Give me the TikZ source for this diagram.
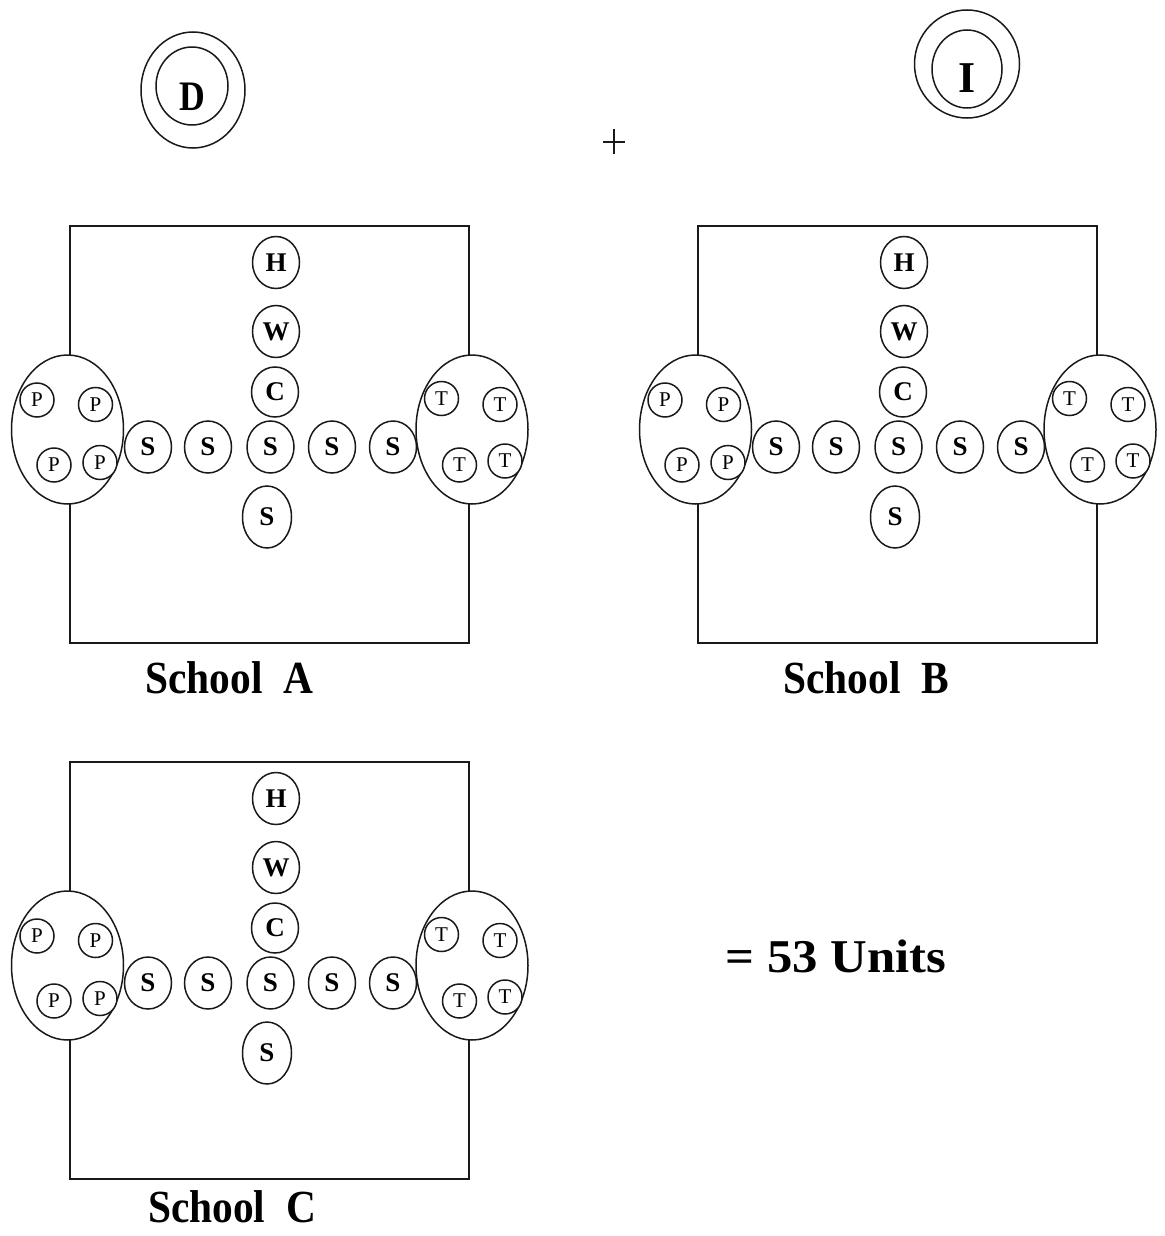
\documentclass[tikz,border=0pt]{standalone}
\usepackage{fontspec}
\setmainfont{Liberation Serif}
\usetikzlibrary{shapes.geometric}
\tikzset{
  ln/.style={line width=1.5pt, draw=black!90},
  bigc/.style={ellipse, ln, fill=white, inner sep=0pt, font=\fontsize{27}{27}\selectfont\bfseries},
  smallc/.style={circle, ln, fill=white, inner sep=0pt, minimum size=34pt, font=\fontsize{21}{21}\selectfont},
  grp/.style={ellipse, ln, fill=white, inner sep=0pt, minimum width=112pt, minimum height=149pt},
  sbox/.style={rectangle, ln, inner sep=0pt, minimum width=399pt, minimum height=417pt},
  srow/.style={bigc, minimum width=47pt, minimum height=52pt},
  lbl/.style={font=\fontsize{46}{46}\selectfont\bfseries, anchor=base, inner sep=0pt},
  ring/.style={ellipse, ln, inner sep=0pt},
}
\newcommand\drawschool[3]{%
\begin{scope}[shift={(#2,#3)}, name prefix=#1-]
  \node[sbox] (box) at (269.5,434.5) {};
  \node[grp] (pg) at (67.5,429.5) {};
  \node[grp] (tg) at (472,429.5) {};
  \node[smallc] (p1) at (37,400) {P};
  \node[smallc] (p2) at (95.5,404.5) {P};
  \node[smallc] (p3) at (54,465) {P};
  \node[smallc] (p4) at (100,462.5) {P};
  \node[smallc] (t1) at (441.5,398.5) {T};
  \node[smallc] (t2) at (500,404.5) {T};
  \node[smallc] (t3) at (459.5,465) {T};
  \node[smallc] (t4) at (505,461) {T};
  \node[srow] (s1) at (148,447) {S};
  \node[srow] (s2) at (208,447) {S};
  \node[srow] (s3) at (270.5,447) {S};
  \node[srow] (s4) at (332,447) {S};
  \node[srow] (s5) at (393,447) {S};
  \node[srow] (h) at (276,262.5) {H};
  \node[srow] (w) at (276,331.5) {W};
  \node[bigc, minimum width=47pt, minimum height=50pt] (c) at (275,392) {C};
  \node[bigc, minimum width=49pt, minimum height=62pt] (s6) at (267,517) {S};
\end{scope}}
\begin{document}
\begin{tikzpicture}[x=1pt, y=-1pt]
  \useasboundingbox (0,0) rectangle (1164,1236);
  % top formula
  \node[ring, minimum width=104pt, minimum height=116pt] (dout) at (193,90) {};
  \node[ring, minimum width=72pt, minimum height=78pt] (din) at (192,86) {};
  \node[font=\fontsize{42}{42}\selectfont\bfseries, inner sep=0pt] (dlet) at (192,97) {\scalebox{0.85}[1]{D}};
  \node[ring, minimum width=105pt, minimum height=108pt] (iout) at (967,64) {};
  \node[ring, minimum width=70pt, minimum height=78pt] (iin) at (967,69) {};
  \node[font=\fontsize{44}{44}\selectfont\bfseries, inner sep=0pt] (ilet) at (967,78) {I};
  \coordinate (pl) at (603,142); \coordinate (pr) at (625,142);
  \coordinate (pt) at (614,129); \coordinate (pb) at (614,154);
  \draw[line width=1.3pt, black!90] (pl) -- (pr) (pt) -- (pb);
  % schools
  \drawschool{A}{0}{0}
  \drawschool{B}{628}{0}
  \drawschool{C}{0}{536}
  \node[lbl] (la) at (229.5,693) {\scalebox{0.9}[1]{School\hspace{0.5em}A}};
  \node[lbl] (lb) at (866,693) {\scalebox{0.9}[1]{School\hspace{0.5em}B}};
  \node[lbl] (lc) at (232,1222) {\scalebox{0.9}[1]{School\hspace{0.5em}C}};
  \node[font=\fontsize{47}{47}\selectfont\bfseries, anchor=base, inner sep=0pt] (units) at (836,972) {\scalebox{1.08}[1]{= 53 Units}};
\end{tikzpicture}
\end{document}
